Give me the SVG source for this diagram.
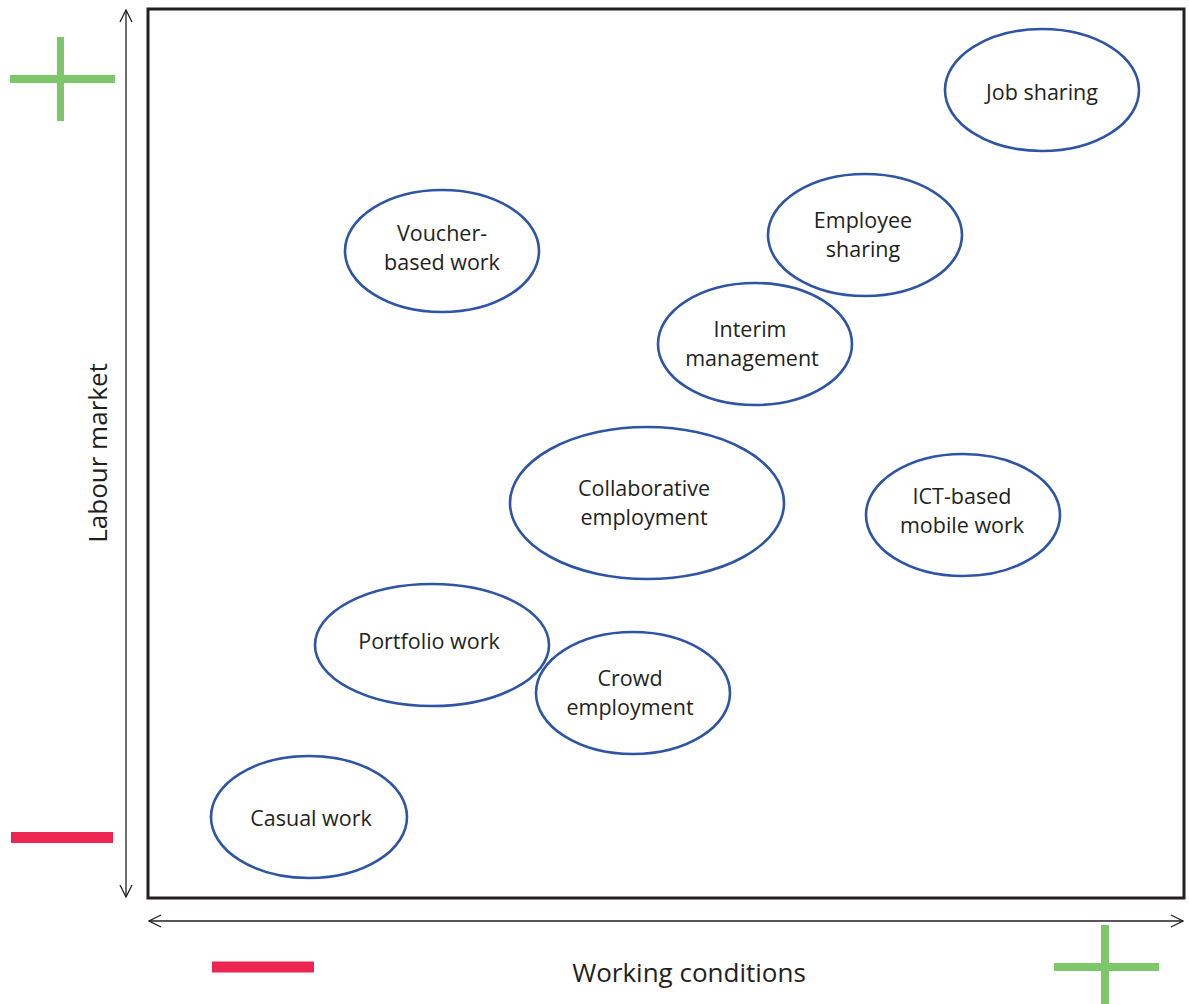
<svg xmlns="http://www.w3.org/2000/svg" width="1189" height="1004" viewBox="0 0 1189 1004">
<style>
.node ellipse{fill:#fff;stroke:#2E55A5;stroke-width:2.6}
text{font-family:"Open Sans","Noto Sans","Liberation Sans",sans-serif;fill:#231F20}
.lbl{font-size:21.5px;text-anchor:middle}
.ax{font-size:26px;text-anchor:middle}
.axis{stroke:#231F20;stroke-width:1.3;fill:none}
.plus{stroke:#7DC66A;fill:none}
.minus{stroke:#EC2650;stroke-width:11}
</style>
<defs>
<marker id="ah" viewBox="0 0 14 14" refX="13" refY="7" markerWidth="14" markerHeight="14" markerUnits="userSpaceOnUse" orient="auto-start-reverse">
<path d="M1,1 L13,7 L1,13" fill="none" stroke="#231F20" stroke-width="1.3"/>
</marker>
</defs>
<rect x="148" y="9" width="1036" height="889" fill="#fff" stroke="#231F20" stroke-width="3"/>
<g id="connectors">
<line class="axis" x1="126" y1="10" x2="126" y2="897" marker-start="url(#ah)" marker-end="url(#ah)"/>
<line class="axis" x1="149" y1="921" x2="1183" y2="921" marker-start="url(#ah)" marker-end="url(#ah)"/>
</g>
<g id="signs">
<path class="plus" stroke-width="8" d="M10,79 H115"/>
<path class="plus" stroke-width="7" d="M60.5,37 V121"/>
<line class="minus" x1="11" y1="837.5" x2="113" y2="837.5"/>
<line class="minus" x1="212" y1="967" x2="314" y2="967"/>
<path class="plus" stroke-width="8" d="M1054,967 H1159"/>
<path class="plus" stroke-width="8" d="M1105,925 V1004"/>
</g>
<text class="ax" transform="translate(107,453) rotate(-90)">Labour market</text>
<text class="ax" x="689" y="982">Working conditions</text>
<g id="job-sharing" class="node"><ellipse cx="1042" cy="90" rx="97" ry="61"/><text class="lbl" x="1042" y="100">Job sharing</text></g>
<g id="voucher-based-work" class="node"><ellipse cx="442" cy="251" rx="97" ry="61"/><text class="lbl" x="442" y="241">Voucher-</text><text class="lbl" x="442" y="270">based work</text></g>
<g id="employee-sharing" class="node"><ellipse cx="865" cy="235" rx="97" ry="61"/><text class="lbl" x="863" y="228">Employee</text><text class="lbl" x="863" y="257">sharing</text></g>
<g id="interim-management" class="node"><ellipse cx="755" cy="344" rx="97" ry="61"/><text class="lbl" x="750" y="337">Interim</text><text class="lbl" x="752" y="366">management</text></g>
<g id="collaborative-employment" class="node"><ellipse cx="647" cy="503" rx="137" ry="76"/><text class="lbl" x="644" y="496">Collaborative</text><text class="lbl" x="644" y="525">employment</text></g>
<g id="ict-based-mobile-work" class="node"><ellipse cx="963" cy="515" rx="97" ry="61"/><text class="lbl" x="962" y="504">ICT-based</text><text class="lbl" x="962" y="533">mobile work</text></g>
<g id="portfolio-work" class="node"><ellipse cx="432" cy="645" rx="117" ry="61"/><text class="lbl" x="429" y="649">Portfolio work</text></g>
<g id="crowd-employment" class="node"><ellipse cx="633" cy="693" rx="97" ry="61"/><text class="lbl" x="630" y="686">Crowd</text><text class="lbl" x="630" y="715">employment</text></g>
<g id="casual-work" class="node"><ellipse cx="309" cy="817" rx="98" ry="61"/><text class="lbl" x="311" y="826">Casual work</text></g>
</svg>
